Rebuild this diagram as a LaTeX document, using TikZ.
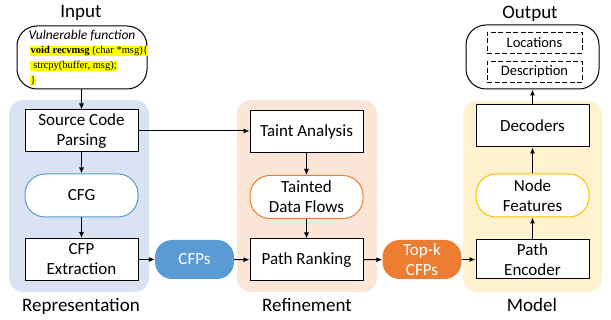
\documentclass[tikz,border=0pt]{standalone}
\usepackage{fontspec}
\setmainfont{Carlito}
\newfontfamily\codefont{Liberation Serif}
\usetikzlibrary{arrows.meta}
\definecolor{regblue}{HTML}{DAE3F3}
\definecolor{regorange}{HTML}{FBE5D6}
\definecolor{regyellow}{HTML}{FFF2CC}
\definecolor{accblue}{HTML}{5B9BD5}
\definecolor{accorange}{HTML}{ED7D31}
\definecolor{accyellow}{HTML}{FFC000}
\definecolor{hl}{HTML}{FFFF00}
\tikzset{
  stepbox/.style={draw=black, fill=white, line width=1pt, minimum width=113pt, minimum height=42pt, align=center, font=\fontsize{17}{20}\selectfont, inner sep=1pt},
  pillbox/.style={draw, fill=white, line width=1pt, rounded corners=20pt, minimum width=113pt, minimum height=43pt, align=center, font=\fontsize{17}{20}\selectfont, inner sep=1pt},
  fillpill/.style={draw=none, rounded corners=17pt, minimum width=79pt, minimum height=39pt, align=center, text=white, font=\fontsize{17}{20}\selectfont, inner sep=1pt},
  title/.style={font=\fontsize{19}{21}\selectfont, inner sep=0pt},
  arr/.style={-{Latex[length=6pt,width=5pt]}, line width=1pt},
  code/.style={fill=hl, inner sep=0.5pt, anchor=west, font=\codefont\fontsize{10.5}{12}\selectfont},
  dbox/.style={draw, dash pattern=on 5pt off 2.5pt, line width=0.9pt, minimum width=95pt, minimum height=21pt, font=\fontsize{14.5}{16}\selectfont, inner sep=0pt}
}
\begin{document}
\begin{tikzpicture}[x=1pt,y=-1pt]
\useasboundingbox (0,0) rectangle (611,320);
% regions
\fill[regblue, rounded corners=14pt] (9,100) rectangle (149,292);
\fill[regorange, rounded corners=14pt] (237,100) rectangle (377,292);
\fill[regyellow, rounded corners=14pt] (463,101) rectangle (602,292);
% titles
\node[title] (tin) at (81,13) {Input};
\node[title] (tout) at (530,14) {Output};
\node[title] (trep) at (81,306) {Representation};
\node[title] (tref) at (307,305) {Refinement};
\node[title] (tmod) at (532,305) {Model};
% input
\node[draw, line width=1pt, rounded corners=20pt, minimum width=130pt, minimum height=63pt] (input) at (82,57.5) {};
\node[font=\itshape\fontsize{13.5}{15}\selectfont, inner sep=0pt] (vf) at (82,36) {Vulnerable function};
\node[code] (c1) at (30,51) {\textbf{void recvmsg} (char *msg)\{};
\node[code] (c2) at (30,66) {\ strcpy(buffer, msg);};
\node[code] (c3) at (30,80.5) {\}};
% representation
\node[stepbox] (scp) at (81.5,131) {Source Code\\Parsing};
\node[pillbox, draw=accblue] (cfg) at (81.5,195.5) {CFG};
\node[stepbox] (cfp) at (81.5,259.5) {CFP\\Extraction};
\node[fillpill, fill=accblue] (cfps) at (194.5,259.5) {CFPs};
% refinement
\node[stepbox] (ta) at (306.5,131.5) {Taint Analysis};
\node[pillbox, draw=accorange] (tdf) at (306.5,197) {Tainted\\Data Flows};
\node[stepbox] (pr) at (306.5,260) {Path Ranking};
\node[fillpill, fill=accorange] (topk) at (422,259.5) {Top-k\\CFPs};
% model
\node[stepbox] (dec) at (532.5,126) {Decoders};
\node[pillbox, draw=accyellow] (nf) at (532.5,195.5) {Node\\Features};
\node[stepbox, minimum height=39pt] (pe) at (532.5,259.5) {Path\\Encoder};
% output
\node[draw, line width=1pt, rounded corners=20pt, minimum width=133pt, minimum height=64pt] (output) at (532.5,57) {};
\node[dbox] (loc) at (534.5,42.5) {Locations};
\node[dbox] (desc) at (534.5,72) {Description};
% arrows
\draw[arr] (input.south -| scp.north) -- (scp.north);
\draw[arr] (scp) -- (cfg);
\draw[arr] (cfg) -- (cfp);
\draw[arr] (cfp) -- (cfps);
\draw[arr] (cfps) -- (pr);
\draw[arr] (scp.east) -- (ta.west |- scp.east);
\draw[arr] (ta) -- (tdf);
\draw[arr] (tdf) -- (pr);
\draw[arr] (pr) -- (topk);
\draw[arr] (topk) -- (pe);
\draw[arr] (pe) -- (nf);
\draw[arr] (nf) -- (dec);
\draw[arr] (dec) -- (output);
\end{tikzpicture}
\end{document}
